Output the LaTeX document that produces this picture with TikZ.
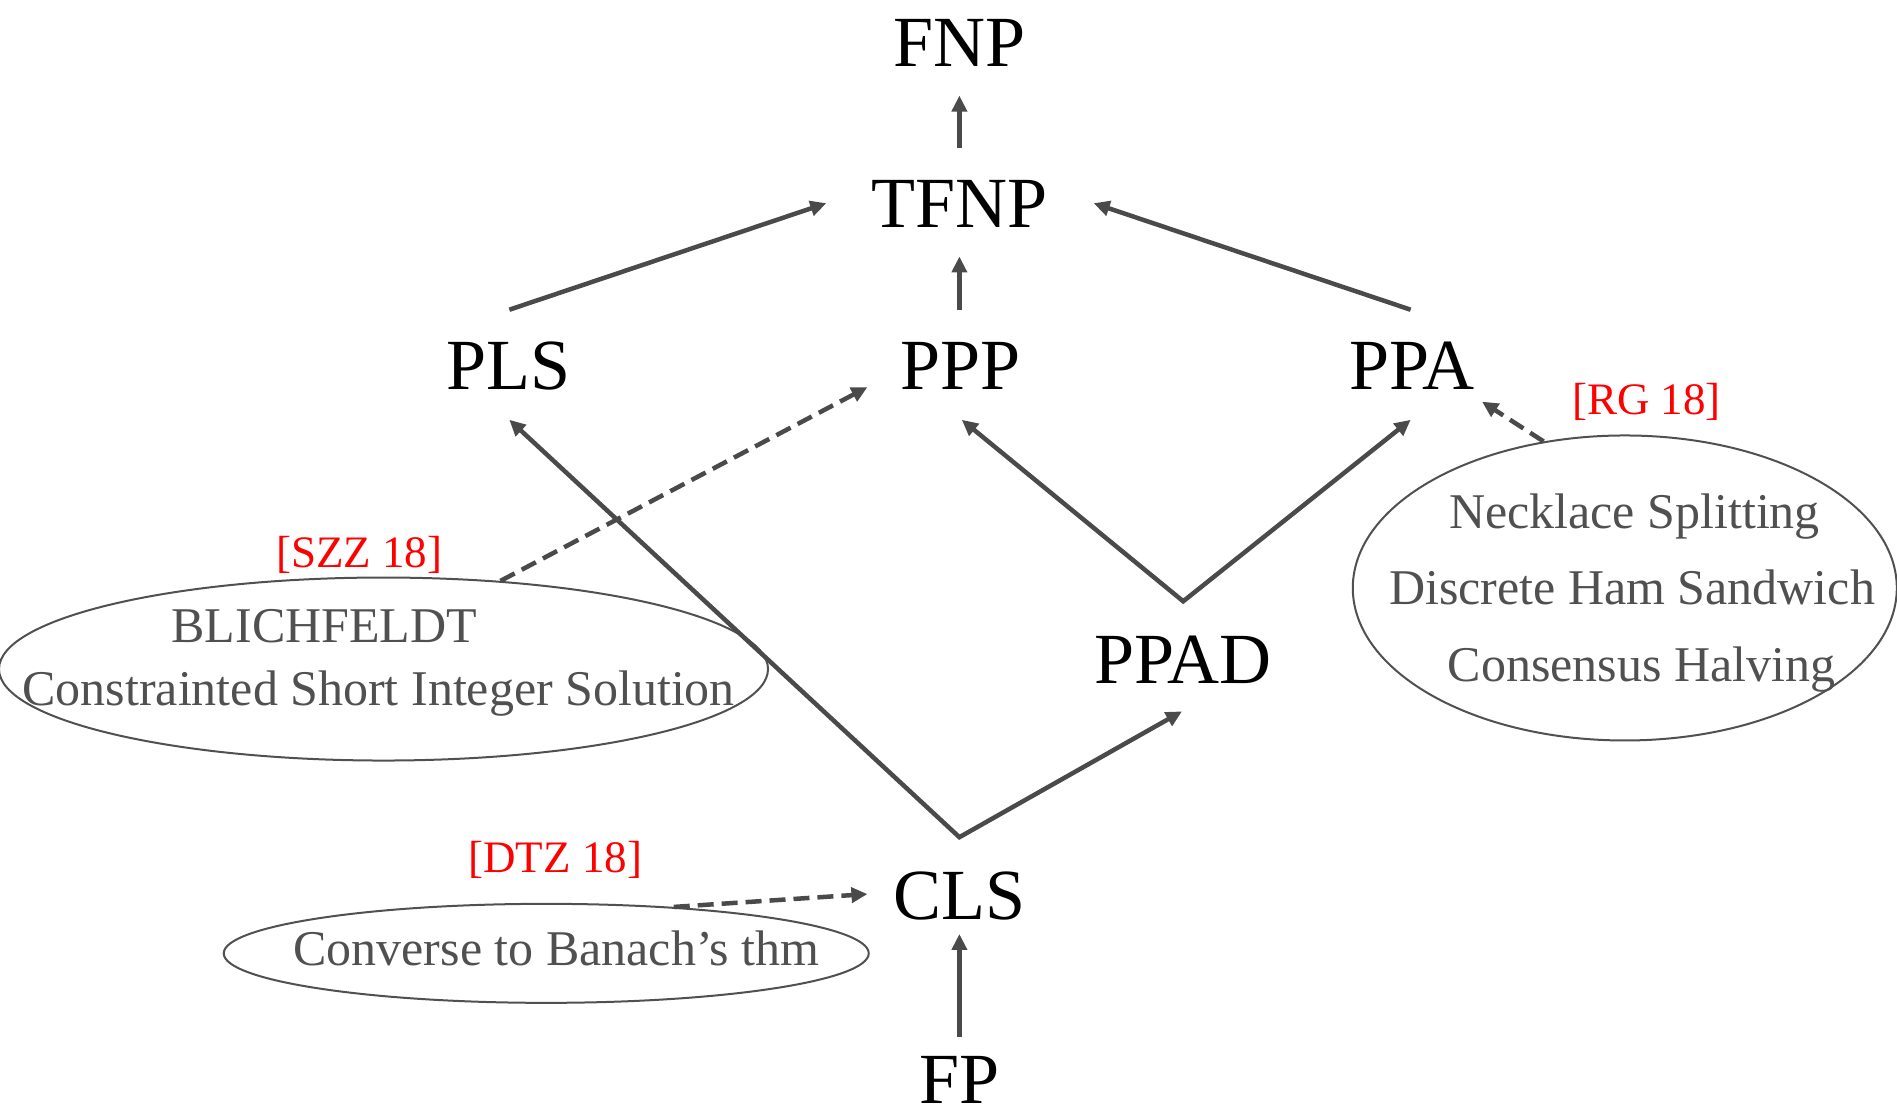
\documentclass[tikz,border=0pt]{standalone}
\usepackage{fontspec}
\setmainfont{Liberation Serif}
\usetikzlibrary{arrows.meta,calc,shapes.geometric}
\definecolor{arr}{HTML}{4A4A4A}
\definecolor{txtgray}{HTML}{505050}
\definecolor{lblred}{HTML}{FF0000}
\begin{document}
\begin{tikzpicture}[x=1.2098pt,y=-1.2098pt,
  cls/.style={font=\fontsize{72}{80}\selectfont, inner sep=0pt, anchor=base},
  item/.style={font=\fontsize{50}{56}\selectfont, text=txtgray, inner sep=0pt, anchor=base},
  cite/.style={font=\fontsize{45}{50}\selectfont, text=lblred, inner sep=0pt, anchor=base},
  blob/.style={draw=txtgray, line width=2pt, ellipse, inner sep=0pt},
  reduce/.style={draw=arr, line width=4.5pt, -{Triangle[length=16pt,width=15pt]}},
  reducetwo/.style={draw=arr, line width=4.5pt, {Triangle[length=16pt,width=15pt]}-{Triangle[length=16pt,width=15pt]}},
  reduced/.style={reduce, dash pattern=on 16pt off 8pt}
]
\useasboundingbox (0,0) rectangle (1568,924);

% class nodes
\node[cls] (FNP) at (793,55) {FNP};
\node[cls] (TFNP) at (793,188) {TFNP};
\node[cls] (PLS) at (420,322) {PLS};
\node[cls] (PPP) at (794,322) {PPP};
\node[cls] (PPA) at (1167,322) {PPA};
\node[cls] (PPAD) at (978,565) {PPAD};
\node[cls] (CLS) at (793,760) {CLS};
\node[cls] (FP) at (793,912) {FP};

% ellipses
\node[blob, minimum width=769pt, minimum height=183pt] (E1) at (317,553) {};
\node[blob, minimum width=544pt, minimum height=305pt] (E2) at (1343,486) {};
\node[blob, minimum width=645pt, minimum height=99pt] (E3) at (451.5,788) {};

% ellipse texts
\node[item] (t1) at (268,531) {BLICHFELDT};
\node[item] (t2) at (313,583) {Constrainted Short Integer Solution};
\node[item] (t3) at (1351,437) {Necklace Splitting};
\node[item] (t4) at (1349,500) {Discrete Ham Sandwich};
\node[item] (t5) at (1357,563) {Consensus Halving};
\node[item] (t6) at (460,798) {Converse to Banach’s thm};

% citations
\node[cite] (c1) at (297,469) {[SZZ 18]};
\node[cite] (c2) at (1361,343) {[RG 18]};
\node[cite] (c3) at (459,721) {[DTZ 18]};

% helper coordinates
\coordinate (CLStop) at ($(CLS.base)+(0,-68)$);
\coordinate (PPADtop) at ($(PPAD.base)+(0,-68)$);

% solid reductions
\draw[reduce] ($(TFNP.base)+(0,-66)$) -- ($(FNP.base)+(0,24)$);
\draw[reduce] ($(PLS.base)+(1,-66)$) -- ($(TFNP.base)+(-110,-20)$);
\draw[reduce] ($(PPP.base)+(-1,-66)$) -- ($(TFNP.base)+(0,24)$);
\draw[reduce] ($(PPA.base)+(-1,-66)$) -- ($(TFNP.base)+(111,-20)$);
\draw[reducetwo] ($(PLS.base)+(1,25)$) -- (CLStop) -- ($(PPAD.base)+(-1,23)$);
\draw[reducetwo] ($(PPP.base)+(1,25)$) -- (PPADtop) -- ($(PPA.base)+(-1,25)$);
\draw[reduce] ($(FP.base)+(0,-55)$) -- ($(CLS.base)+(0,12)$);

% dashed reductions
\draw[reduced] (E1.37) -- ($(PPP.base)+(-77,-2)$);
\draw[reduced] (E2.119) -- ($(PPA.base)+(58,10)$);
\draw[reduced] (E3.20) -- ($(CLS.base)+(-76,-21)$);
\end{tikzpicture}
\end{document}
